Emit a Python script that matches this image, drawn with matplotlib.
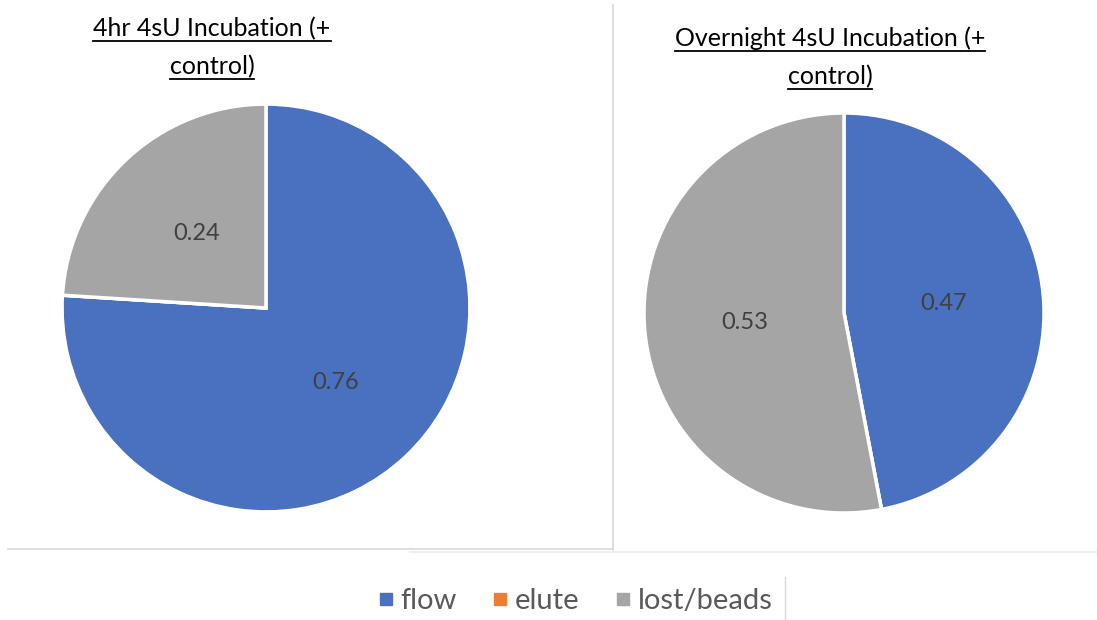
import matplotlib
matplotlib.use('Agg')
import matplotlib.pyplot as plt
from matplotlib.lines import Line2D
import numpy as np

plt.rcParams['font.family'] = ['Lato', 'DejaVu Sans']

categories = ['flow', 'elute', 'lost/beads']
colors = ['#4a70c0', '#ed7d31', '#a5a5a5']
fraction_4hr = [0.76, 0.0, 0.24]
fraction_overnight = [0.47, 0.0, 0.53]
titles = [['4hr 4sU Incubation (+', 'control)'],
          ['Overnight 4sU Incubation (+', 'control)']]

W, H = 1097, 620
fig = plt.figure(figsize=(W / 100, H / 100), dpi=100)


def px_axes(cx, cy, r):
    """axes square around a pixel centre (y measured from the top)"""
    return fig.add_axes([(cx - r) / W, (H - cy - r) / H, 2 * r / W, 2 * r / H])


def draw_pie(ax, values):
    wedges, _ = ax.pie(values, colors=colors, startangle=90, counterclock=False,
                       radius=1.0, wedgeprops=dict(edgecolor='white', linewidth=2.5))
    for w, v in zip(wedges, values):
        if v <= 0:
            continue
        mid = np.deg2rad((w.theta1 + w.theta2) / 2)
        ax.text(0.5 * np.cos(mid), 0.5 * np.sin(mid), f'{v:.2f}',
                ha='center', va='center', fontsize=17, color='#404040')
    ax.set_xlim(-1.02, 1.02)
    ax.set_ylim(-1.02, 1.02)
    ax.set_aspect('equal')
    ax.axis('off')


ax1 = px_axes(266, 308, 208)
draw_pie(ax1, fraction_4hr)
ax2 = px_axes(844, 313, 204)
draw_pie(ax2, fraction_overnight)

# titles, one line at a time so each can be underlined
title_texts = []
for (cx, ys), lines in zip([(212, (36, 74)), (830, (46, 84))], titles):
    for y, line in zip(ys, lines):
        t = fig.text(cx / W, 1 - y / H, line, ha='center', va='baseline',
                     fontsize=18, color='black')
        title_texts.append(t)

fig.canvas.draw()
renderer = fig.canvas.get_renderer()
for t in title_texts:
    bb = t.get_window_extent(renderer)
    x0, x1 = bb.x0 / W, bb.x1 / W
    yb = t.get_position()[1] - 5 / H
    fig.add_artist(Line2D([x0, x1], [yb, yb], transform=fig.transFigure,
                          color='black', linewidth=1.3))

# panel borders
grey = '#d9d9d9'
fig.add_artist(Line2D([613 / W, 613 / W], [1 - 5 / H, 1 - 550 / H],
                      transform=fig.transFigure, color=grey, linewidth=1.2))
fig.add_artist(Line2D([8 / W, 613 / W], [1 - 549 / H, 1 - 549 / H],
                      transform=fig.transFigure, color=grey, linewidth=1.2))
fig.add_artist(Line2D([410 / W, 1.0], [1 - 552 / H, 1 - 552 / H],
                      transform=fig.transFigure, color='#ececec', linewidth=1.2))
fig.add_artist(Line2D([785 / W, 785 / W], [1 - 577 / H, 0],
                      transform=fig.transFigure, color=grey, linewidth=1.0))

handles = [Line2D([], [], marker='s', linestyle='none', markersize=8,
                  markerfacecolor=c, markeredgecolor=c) for c in colors]
fig.legend(handles, categories, loc='center', bbox_to_anchor=(572 / W, 1 - 601 / H),
           ncol=3, frameon=False, fontsize=21, handletextpad=0.0,
           handlelength=1.0, columnspacing=1.0, labelcolor='#595959')

fig.savefig('out.png', dpi=100)
